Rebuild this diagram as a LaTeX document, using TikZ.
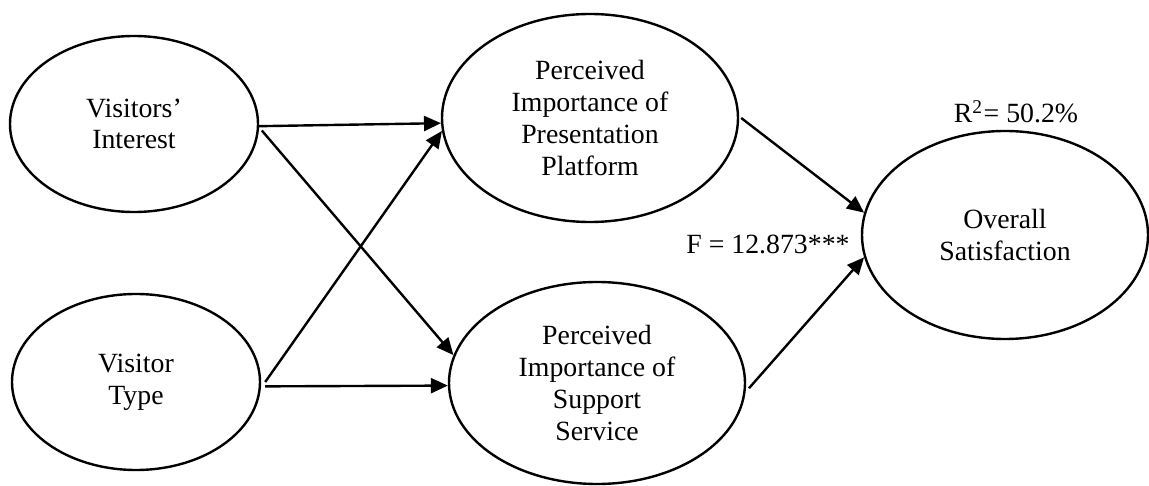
\documentclass[tikz,border=0pt]{standalone}
\usepackage{fontspec}
\setmainfont{Liberation Serif}
\usetikzlibrary{shapes.geometric,arrows.meta}
\begin{document}
\begin{tikzpicture}[x=1pt,y=-1pt,
  construct/.style={draw, line width=2.4pt, ellipse, inner sep=0pt,
    align=center, font=\fontsize{27.8}{31.7}\selectfont},
  path/.style={line width=2.4pt, -{Triangle[length=17pt,width=15pt]}},
  lbl/.style={font=\fontsize{27.8}{31.7}\selectfont, inner sep=0pt}]
\useasboundingbox (0,0) rectangle (1149,486);

% constructs
\node[construct, minimum width=248pt, minimum height=176pt] (vi) at (134,124) {Visitors’\\Interest};
\node[construct, minimum width=248pt, minimum height=176pt] (vt) at (136,382) {Visitor\\Type};
\node[construct, minimum width=296pt, minimum height=208pt] (pp) at (590,118) {Perceived\\Importance of\\Presentation\\Platform};
\node[construct, minimum width=296pt, minimum height=202pt] (ss) at (597,383) {Perceived\\Importance of\\Support\\Service};
\node[construct, minimum width=286pt, minimum height=208pt] (os) at (1005,235) {Overall\\Satisfaction};

% statistics
\node[lbl] (f) at (768,244) {F = 12.873***};
\node[lbl] (r) at (1016,112) {R\textsuperscript{2}\hspace{1pt}= 50.2\%};

% paths
\draw[path] (vi.-1) -- (pp.182.7);
\draw[path] ([xshift=3pt]vi.-3) -- (ss.169.8);
\draw[path] ([xshift=4pt]vt.0) -- (pp.185.8);
\draw[path] ([xshift=4pt]vt.-2) -- (ss.181);
\draw[path] ([xshift=2pt]pp.0.5) -- (os.171);
\draw[path] ([xshift=3pt]ss.-2) -- (os.189.8);
\end{tikzpicture}
\end{document}
